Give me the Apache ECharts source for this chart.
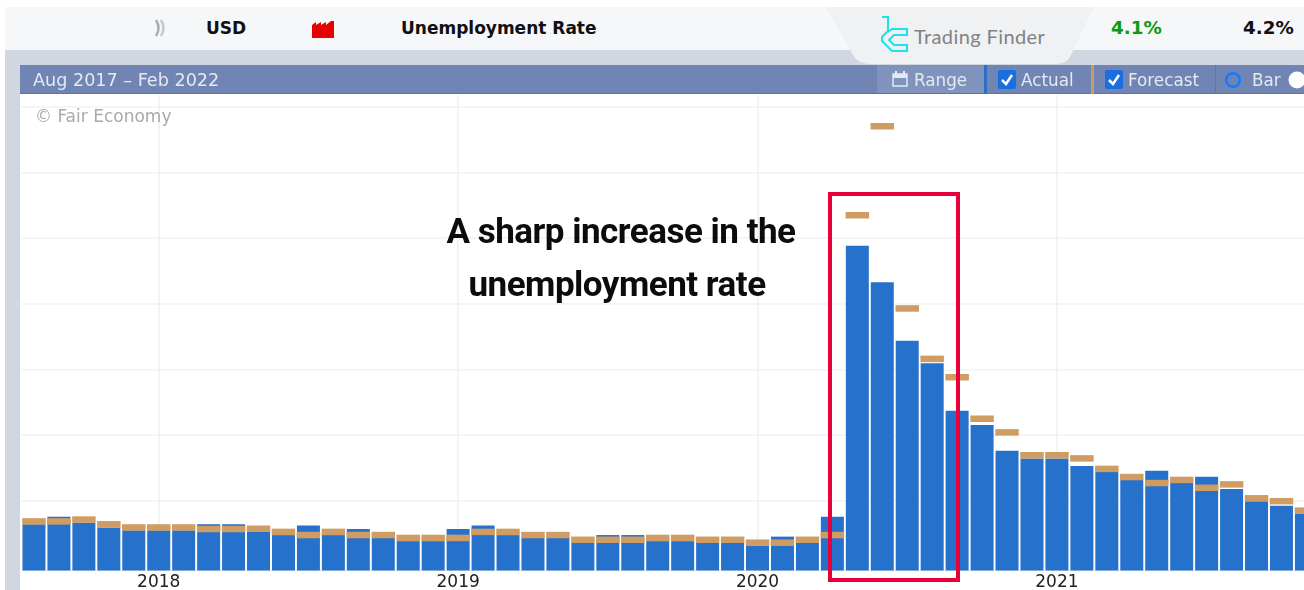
<!DOCTYPE html>
<html>
<head>
<meta charset="utf-8">
<title>Unemployment Rate</title>
<script src="https://cdn.jsdelivr.net/npm/echarts@6/dist/echarts.min.js"></script>
<style>
html, body { margin: 0; padding: 0; width: 1304px; height: 590px; overflow: hidden; background: #fff; }
body { font-family: "DejaVu Sans", sans-serif; position: relative; }
/* 比窗口宽，最后一根柱子被窗口裁掉 */
#chart { position: absolute; left: 0; top: 0; width: 1340px; height: 590px; }
.abs { position: absolute; white-space: nowrap; }
.band { left: 5px; top: 7px; width: 1299px; height: 43px; background: #f5f7f9; }
.band2 { left: 5px; top: 50px; width: 1299px; height: 15px; background: #d0d7e1; }
.strip { left: 5px; top: 65px; width: 15px; height: 525px; background: #d0d7e1; }
.bar-head { left: 20px; top: 65px; width: 1284px; height: 29px; background: #7085b3; border-bottom: 1px solid #5a73a8; box-sizing: border-box; }
.head-text { color: #e4e9f3; font-size: 16.8px; line-height: 29px; top: 66px; }
.cal-text { font-weight: bold; color: #111; font-size: 17px; line-height: 20px; top: 18px; }
.check { width: 18px; height: 19px; top: 70px; background: #1a6fe0; border-radius: 2px; }
.sep { top: 65px; width: 3px; height: 29px; }
.note { font-family: Roboto, sans-serif; font-weight: 700; font-size: 35px; letter-spacing: -0.5px; color: #0c0c0c; text-align: center; left: 421px; width: 400px; }
.redbox { left: 828px; top: 192px; width: 132px; height: 390px; border: 4px solid #e8003a; box-sizing: border-box; }
</style>
</head>
<body>
<div id="chart"></div>

<div class="abs band"></div>
<div class="abs band2"></div>
<div class="abs strip"></div>
<div class="abs bar-head"></div>

<!-- calendar row -->
<svg class="abs" style="left:153px;top:17px" width="16" height="22">
  <path d="M3 3 Q8 11 3 19" fill="none" stroke="#a9aeb4" stroke-width="2.5"/>
  <path d="M8 3 Q13 11 8 19" fill="none" stroke="#c4c9cf" stroke-width="2.5"/>
</svg>
<div class="abs cal-text" style="left:206px">USD</div>
<svg class="abs" style="left:312px;top:20px" width="22" height="18">
  <path d="M0 5 L4 2 L4 5 L9 2 L9 5 L14 2 L14 5 L19 1 L22 1 L22 18 L0 18 Z" fill="#e60000"/>
</svg>
<div class="abs cal-text" style="left:401px">Unemployment Rate</div>
<div class="abs cal-text" style="left:1111px;color:#0f9a12;font-size:18.3px">4.1%</div>
<div class="abs cal-text" style="left:1243px;font-size:18.3px">4.2%</div>

<!-- watermark -->
<svg class="abs" style="left:820px;top:7px" width="280" height="58">
  <path d="M6 0 L274 0 L250 50 Q246 57 236 57 L50 57 Q40 57 34 50 Z" fill="#f0f1f2"/>
  <path d="M62 10 H68 V24 L62 30 V34 L72 44 H87 V38 H74 L69 33 L74 28 H87 V22 H72 L68 25" fill="none" stroke="#19e3ea" stroke-width="2"/>
</svg>
<div class="abs" style="left:914px;top:24px;font-family:Lato,sans-serif;font-size:20px;line-height:24px;color:#7d8387;letter-spacing:0.4px">Trading Finder</div>

<!-- chart header -->
<div class="abs head-text" style="left:33px;font-size:17.6px">Aug 2017 – Feb 2022</div>
<div class="abs" style="left:877px;top:65px;width:107px;height:28px;background:#7f93bd"></div>
<svg class="abs" style="left:892px;top:71px" width="16" height="16">
  <rect x="1" y="3" width="14" height="12" fill="none" stroke="#e4e9f3" stroke-width="1.5"/>
  <rect x="1" y="3" width="14" height="4" fill="#e4e9f3"/>
  <path d="M4 0 V4 M12 0 V4" stroke="#e4e9f3" stroke-width="2"/>
</svg>
<div class="abs head-text" style="left:914px">Range</div>
<div class="abs sep" style="left:984px;background:#2a6fc9"></div>
<div class="abs check" style="left:998px"></div>
<svg class="abs" style="left:998px;top:70px" width="18" height="19"><path d="M4 10 L8 14 L14 5" fill="none" stroke="#fff" stroke-width="2.5"/></svg>
<div class="abs head-text" style="left:1021px">Actual</div>
<div class="abs sep" style="left:1091px;background:#c99a62"></div>
<div class="abs check" style="left:1105px"></div>
<svg class="abs" style="left:1105px;top:70px" width="18" height="19"><path d="M4 10 L8 14 L14 5" fill="none" stroke="#fff" stroke-width="2.5"/></svg>
<div class="abs head-text" style="left:1128px">Forecast</div>
<div class="abs sep" style="left:1215px;width:1px;background:#60759f"></div>
<svg class="abs" style="left:1224px;top:71px" width="18" height="18"><circle cx="9" cy="9" r="6.8" fill="#6f84b2" stroke="#0f7bff" stroke-width="2.5"/></svg>
<div class="abs head-text" style="left:1252px">Bar</div>
<svg class="abs" style="left:1286px;top:70px" width="18" height="20"><circle cx="11" cy="10" r="8.5" fill="#fff"/></svg>

<div class="abs" style="left:35px;top:106px;font-size:17px;line-height:20px;color:#a9a9a9">© Fair Economy</div>

<!-- annotation -->
<div class="abs note" style="top:212px;line-height:40px">A sharp increase in the</div>
<div class="abs note" style="top:265px;line-height:40px;left:417px">unemployment rate</div>
<div class="abs redbox"></div>

<script>
// 月份，Aug 2017 起，右边超出画面的不画
const months = [
  '2017-08', '2017-09', '2017-10', '2017-11', '2017-12',
  '2018-01', '2018-02', '2018-03', '2018-04', '2018-05', '2018-06', '2018-07', '2018-08', '2018-09', '2018-10', '2018-11', '2018-12',
  '2019-01', '2019-02', '2019-03', '2019-04', '2019-05', '2019-06', '2019-07', '2019-08', '2019-09', '2019-10', '2019-11', '2019-12',
  '2020-01', '2020-02', '2020-03', '2020-04', '2020-05', '2020-06', '2020-07', '2020-08', '2020-09', '2020-10', '2020-11', '2020-12',
  '2021-01', '2021-02', '2021-03', '2021-04', '2021-05', '2021-06', '2021-07', '2021-08', '2021-09', '2021-10', '2021-11'
];

const actual = [
  4.10, 4.39, 4.16, 3.98, 3.87, 3.87, 3.87, 4.10, 4.10, 3.82, 3.69, 4.05, 3.69, 3.92, 3.58, 3.46, 3.46,
  3.92, 4.05, 3.69, 3.58, 3.58, 3.40, 3.69, 3.69, 3.46, 3.46, 3.40, 3.40, 3.29, 3.63, 3.40, 4.39,
  14.71, 13.32, 11.09, 10.23, 8.42, 7.88, 6.90, 6.61, 6.61, 6.32, 6.09, 5.79, 6.14, 5.67, 5.91, 5.44, 4.98, 4.81, 4.50
];

const forecast = [
  4.21, 4.21, 4.28, 4.10, 3.98, 3.98, 3.98, 3.92, 3.92, 3.93, 3.81, 3.69, 3.81, 3.69, 3.69, 3.58, 3.58,
  3.58, 3.81, 3.81, 3.69, 3.69, 3.51, 3.51, 3.51, 3.58, 3.58, 3.51, 3.51, 3.40, 3.40, 3.51, 3.69,
  15.87, 19.26, 12.32, 10.40, 9.70, 8.12, 7.60, 6.73, 6.73, 6.61, 6.21, 5.90, 5.67, 5.79, 5.49, 5.62, 5.09, 4.98, 4.62
];

// 横向网格线
const yGridValues = [5, 7.5, 10, 12.5, 15, 17.5, 20];

const chart = echarts.init(document.getElementById('chart'), null, { renderer: 'canvas' });

chart.setOption({
  animation: false,
  backgroundColor: 'transparent',
  grid: { left: 21.5, top: 95, width: 1297.4, height: 475.5, outerBoundsMode: 'none' },
  xAxis: {
    type: 'category',
    data: months,
    axisLine: { show: true, lineStyle: { color: '#dfe7ee' } },
    axisTick: { show: false },
    axisLabel: {
      interval: (i, m) => m.endsWith('-01'),
      formatter: (m) => m.slice(0, 4),
      color: '#222',
      fontFamily: 'DejaVu Sans',
      fontSize: 17,
      margin: 4
    },
    splitLine: {
      show: true,
      alignWithLabel: true,
      interval: (i, m) => m.endsWith('-01'),
      lineStyle: { color: '#eceff3', width: 1.5 }
    }
  },
  yAxis: {
    type: 'value',
    min: 2.34,
    max: 20.45,
    axisLine: { show: false },
    axisTick: { show: false, customValues: yGridValues },
    axisLabel: { show: false },
    splitLine: { show: true, lineStyle: { color: '#f0f2f5', width: 1.5 } }
  },
  series: [
    {
      name: 'Actual',
      type: 'bar',
      data: actual,
      barWidth: 23,
      itemStyle: { color: '#2671cb' }
    },
    {
      name: 'Forecast',
      type: 'scatter',
      data: forecast,
      symbol: 'rect',
      symbolSize: [23.5, 6.5],
      itemStyle: { color: '#cf9d63', opacity: 1 },
      z: 5
    }
  ]
});
</script>
</body>
</html>
